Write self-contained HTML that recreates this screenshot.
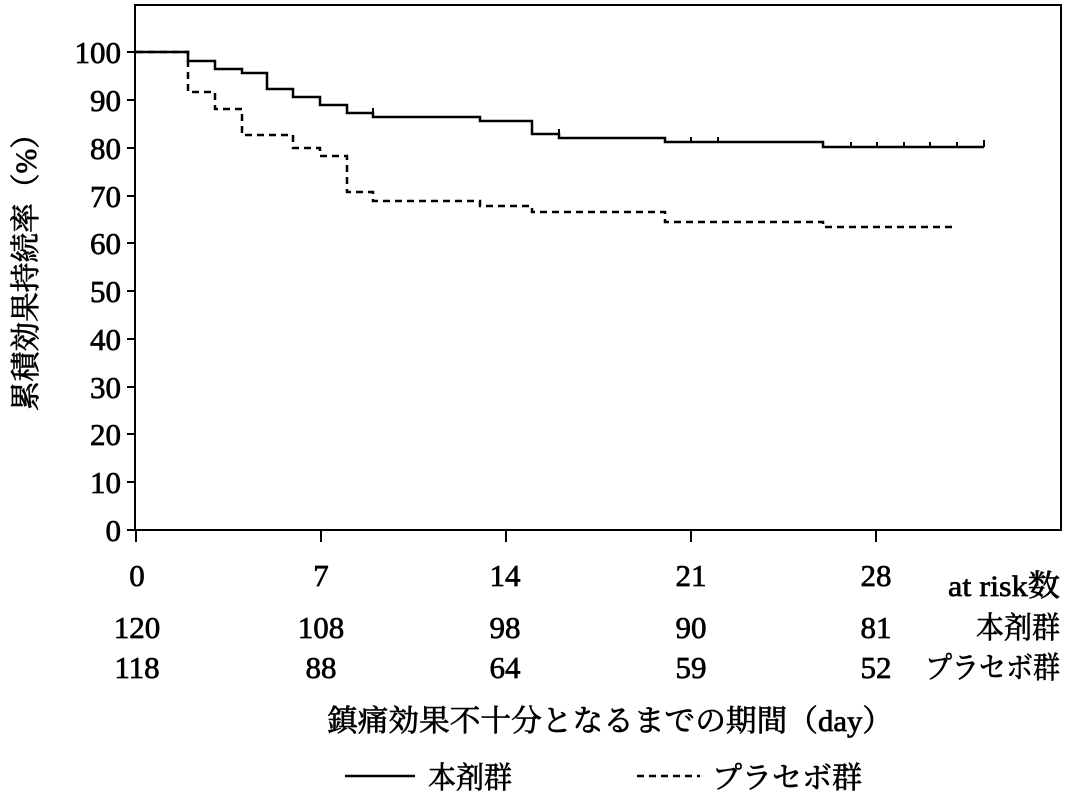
<!DOCTYPE html>
<html><head><meta charset="utf-8"><style>
html,body{margin:0;padding:0;background:#fff}
svg text{font-family:"Liberation Serif","Noto Serif CJK SC",serif;fill:#000;stroke:#000;stroke-width:0.7}
</style></head><body>
<svg width="1069" height="799" viewBox="0 0 1069 799" xmlns="http://www.w3.org/2000/svg">
<rect x="135" y="5" width="926" height="525" fill="none" stroke="#000" stroke-width="2"/>
<g stroke="#000" stroke-width="2">
<line x1="127" y1="52" x2="135" y2="52"/><line x1="127" y1="100" x2="135" y2="100"/><line x1="127" y1="148" x2="135" y2="148"/><line x1="127" y1="196" x2="135" y2="196"/><line x1="127" y1="243" x2="135" y2="243"/><line x1="127" y1="291" x2="135" y2="291"/><line x1="127" y1="339" x2="135" y2="339"/><line x1="127" y1="387" x2="135" y2="387"/><line x1="127" y1="434" x2="135" y2="434"/><line x1="127" y1="482" x2="135" y2="482"/><line x1="127" y1="530" x2="135" y2="530"/>
<line x1="136" y1="530" x2="136" y2="542"/><line x1="321" y1="530" x2="321" y2="542"/><line x1="506" y1="530" x2="506" y2="542"/><line x1="691" y1="530" x2="691" y2="542"/><line x1="876" y1="530" x2="876" y2="542"/>
</g>
<g font-size="31" text-anchor="end">
<text x="121" y="63">100</text><text x="121" y="111">90</text><text x="121" y="159">80</text><text x="121" y="207">70</text><text x="121" y="254">60</text><text x="121" y="302">50</text><text x="121" y="350">40</text><text x="121" y="398">30</text><text x="121" y="445">20</text><text x="121" y="493">10</text><text x="121" y="541">0</text>
</g>
<text transform="translate(36,265) rotate(-90)" font-size="30" text-anchor="middle" textLength="292" lengthAdjust="spacingAndGlyphs">累積効果持続率（%）</text>
<path d="M136 52H188V61H215V69H242V73H267V89H293V97H320V105H347V113H373V117H480V121H532V134H559V138H665V142H823V147H984" fill="none" stroke="#000" stroke-width="2.5"/>
<g stroke="#000" stroke-width="2"><line x1="373" y1="108" x2="373" y2="117"/><line x1="559" y1="129" x2="559" y2="138"/><line x1="691" y1="137" x2="691" y2="142"/><line x1="718" y1="137" x2="718" y2="142"/><line x1="851" y1="142" x2="851" y2="147"/><line x1="877" y1="142" x2="877" y2="147"/><line x1="904" y1="142" x2="904" y2="147"/><line x1="930" y1="142" x2="930" y2="147"/><line x1="957" y1="142" x2="957" y2="147"/><line x1="984" y1="140" x2="984" y2="147"/></g>
<path d="M136 52H188V92H215V109H242V135H293V148H320V156H347V192H373V201H480V206H532V212H665V222H823V227H957" fill="none" stroke="#000" stroke-width="2.5" stroke-dasharray="7,5"/>
<g font-size="31" text-anchor="middle">
<text x="137" y="586">0</text><text x="321" y="586">7</text><text x="505" y="586">14</text><text x="691" y="586">21</text><text x="876" y="586">28</text>
<text x="137" y="638">120</text><text x="321" y="638">108</text><text x="505" y="638">98</text><text x="691" y="638">90</text><text x="876" y="638">81</text>
<text x="137" y="678">118</text><text x="321" y="678">88</text><text x="505" y="678">64</text><text x="691" y="678">59</text><text x="876" y="678">52</text>
</g>
<text x="948" y="596" font-size="30" textLength="112" lengthAdjust="spacingAndGlyphs">at risk数</text>
<text x="976" y="638" font-size="30" textLength="84" lengthAdjust="spacingAndGlyphs">本剤群</text>
<text x="925" y="678" font-size="30" textLength="135" lengthAdjust="spacingAndGlyphs">プラセボ群</text>
<text x="327" y="731" font-size="30" textLength="566" lengthAdjust="spacingAndGlyphs">鎮痛効果不十分となるまでの期間（day）</text>
<line x1="345" y1="776" x2="415" y2="776" stroke="#000" stroke-width="2.5"/>
<text x="428" y="788" font-size="30" textLength="84" lengthAdjust="spacingAndGlyphs">本剤群</text>
<line x1="637" y1="776" x2="700" y2="776" stroke="#000" stroke-width="2.5" stroke-dasharray="7,5"/>
<text x="712" y="788" font-size="30" textLength="150" lengthAdjust="spacingAndGlyphs">プラセボ群</text>
</svg>
</body></html>
